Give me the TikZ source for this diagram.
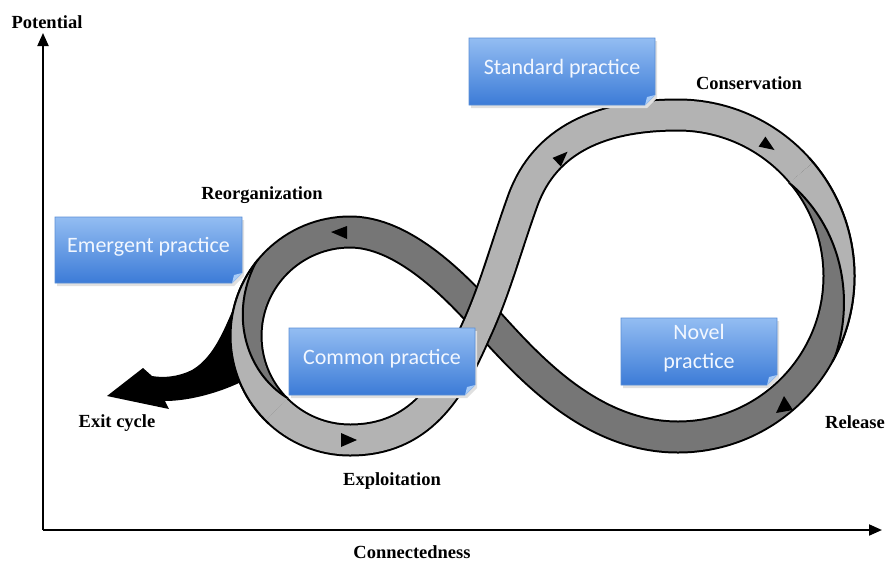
\documentclass[tikz,border=0pt]{standalone}
\usepackage{fontspec}
\newfontfamily\lblfont{Liberation Serif}
\newfontfamily\boxfont{Carlito}
\usetikzlibrary{arrows.meta}
\definecolor{lightband}{HTML}{B3B3B3}
\definecolor{darkband}{HTML}{767676}
\definecolor{boxtop}{HTML}{93BDF2}
\definecolor{boxbot}{HTML}{3C7BD7}
\definecolor{boxedge}{HTML}{5B8FD6}
\definecolor{boxtext}{HTML}{F2F7FF}
\definecolor{foldcol}{HTML}{A8CBF6}
\newcommand\practicebox[6]{%
  \fill[shadowshape] (#2+2,#3+3) -- (#4+2,#3+3) -- (#4+2,#5+3-10) -- (#4+2-10,#5+3) -- (#2+2,#5+3) -- cycle;
  \shadedraw[boxshape] (#2,#3) -- (#4,#3) -- (#4,#5-10) -- (#4-10,#5) -- (#2,#5) -- cycle;
  \fill[foldcol] (#4,#5-10) -- (#4-10,#5) -- (#4-8,#5-8) -- cycle;
  \node[ptext] (#1) at ({(#2+#4)/2},{(#3+#5)/2-3}) {#6};
}
\begin{document}
\begin{tikzpicture}[x=1pt,y=-1pt,
  band/.style={line width=2pt, double distance=29pt},
  axis/.style={line width=2pt, -{Triangle[length=13pt,width=11pt]}},
  lbl/.style={font=\lblfont\bfseries\fontsize{18.5}{22}\selectfont, inner sep=0pt},
  ptext/.style={font=\boxfont\fontsize{22}{29}\selectfont, text=boxtext, align=center, inner sep=0pt},
  boxshape/.style={top color=boxtop, bottom color=boxbot, draw=boxedge, line width=0.6pt},
  shadowshape/.style={fill=black!12},
  tri/.style={fill=black},
  edge/.style={line width=2pt, draw=black},
]
\useasboundingbox[fill=white] (0,0) rectangle (888,563);

% axes
\coordinate (origin) at (43,530);
\coordinate (ytop) at (43,33);
\coordinate (xend) at (882,530);
\draw[axis] (origin) -- (ytop);
\draw[axis] (origin) -- (xend);

% exit arrow
\fill[black] (244,284) .. controls (228,318) and (218,355) .. (192,370)
  .. controls (178,377) and (163,378) .. (152,376) -- (143,368) -- (107,396)
  -- (169,409) -- (165,401) .. controls (190,401) and (222,392) .. (245,380) -- cycle;

% dark band
\draw[band, double=darkband] (350,336) ++(135:104) arc (135:270:104)
  .. controls (395,232) and (440,270) .. (477,310)
  .. controls (520,357) and (585,437) .. (678,437) arc (90:-40:161);

% light band
\draw[band, double=lightband] (350,336) ++(135:104) arc (135:90:104)
  .. controls (420,440) and (450,390) .. (475,333)
  .. controls (495,290) and (505,250) .. (523,200)
  .. controls (545,140) and (600,115) .. (678,115) arc (270:320:161);

% twist on the small loop
\fill[lightband] plot[domain=135:218, samples=40]
  ({350+(88+31.5*(\x-135)/83)*cos(\x)}, {336+(88+31.5*(\x-135)/83)*sin(\x)})
  arc (218:135:119.5) -- cycle;
\draw[edge] plot[domain=135:218, samples=40]
  ({350+(88+31.5*(\x-135)/83)*cos(\x)}, {336+(88+31.5*(\x-135)/83)*sin(\x)});
\draw[edge] (350,336) ++(220:119.5) arc (220:133:119.5);

% twist on the big loop
\fill[lightband] plot[domain=-40:27, samples=40]
  ({678+(145+31.5*(\x+40)/67)*cos(\x)}, {276+(145+31.5*(\x+40)/67)*sin(\x)})
  arc (27:-40:176.5) -- cycle;
\draw[edge] plot[domain=-40:27, samples=40]
  ({678+(145+31.5*(\x+40)/67)*cos(\x)}, {276+(145+31.5*(\x+40)/67)*sin(\x)});
\draw[edge] (678,276) ++(-42:176.5) arc (-42:29:176.5);

% direction arrows
\fill[tri] (357,440) -- (341,433) -- (341,447) -- cycle;
\fill[tri] (331,232) -- (347,226) -- (347,239) -- cycle;
\fill[tri] (567.5,151.7) -- (560.9,166.5) -- (552.5,157.9) -- cycle;
\fill[tri] (774.5,150) -- (758.6,146.6) -- (765.4,136.6) -- cycle;
\fill[tri] (784,396) -- (776,413) -- (793,410) -- cycle;

% practice boxes
\practicebox{emergent}{55}{217}{242}{283}{Emergent practice}
\practicebox{common}{289}{328}{475}{395}{Common practice}
\practicebox{standard}{469}{38}{655}{105}{Standard practice}
\practicebox{novel}{621}{318}{777}{385}{Novel\\practice}

% labels
\node[lbl] (potential) at (47,22) {Potential};
\node[lbl] (reorg) at (262,195) {Reorganization};
\node[lbl] (exit) at (117,423) {Exit cycle};
\node[lbl] (exploit) at (392,481) {Exploitation};
\node[lbl] (conserv) at (749,83) {Conservation};
\node[lbl] (release) at (855,422) {Release};
\node[lbl] (connect) at (412,552) {Connectedness};
\end{tikzpicture}
\end{document}
